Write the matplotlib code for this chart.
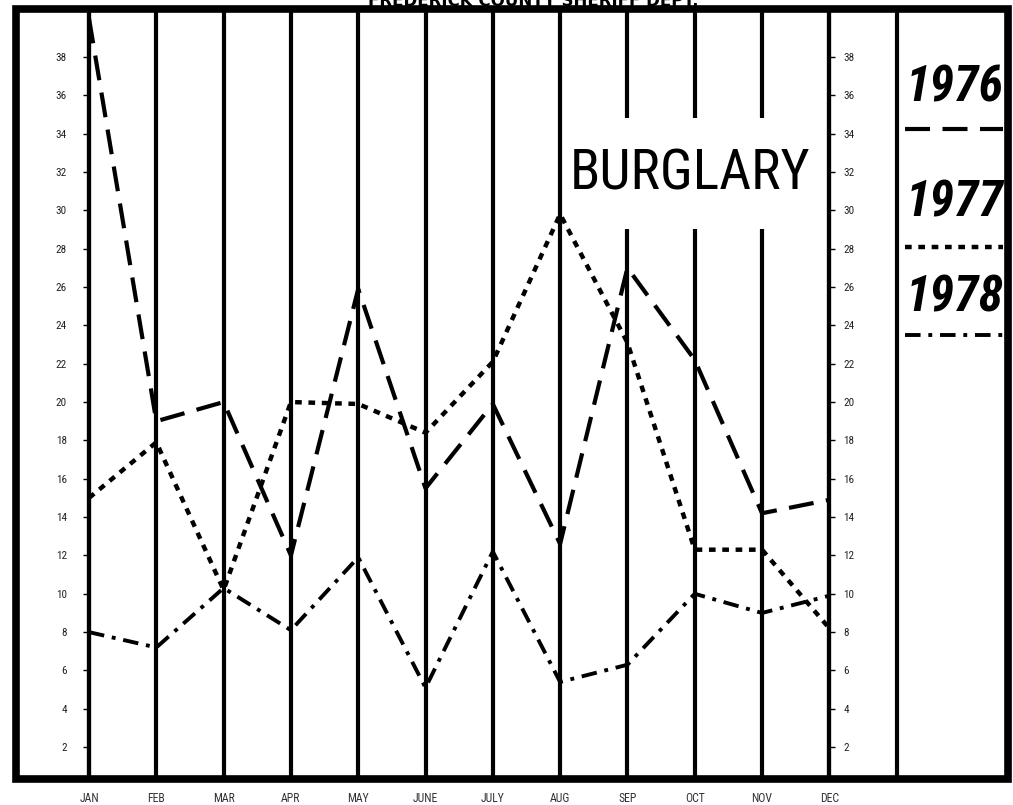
import numpy as np
import matplotlib.pyplot as plt
from matplotlib.patches import Rectangle

# Monthly burglary counts
months = ["JAN", "FEB", "MAR", "APR", "MAY", "JUNE", "JULY", "AUG", "SEP", "OCT", "NOV", "DEC"]
burglary_1976 = [40, 19, 20, 12, 25.9, 15.5, 19.9, 12.6, 27, 22.2, 14.2, 14.9]
burglary_1977 = [15, 17.9, 10.2, 20, 19.9, 18.4, 22.1, 29.8, 23.1, 12.3, 12.3, 8.2]
burglary_1978 = [8, 7.2, 10.3, 8.1, 11.9, 5.1, 12.2, 5.4, 6.3, 10, 9, 9.9]
years = ["1976", "1977", "1978"]
y_ticks = list(range(2, 40, 2))

narrow = ['Roboto Condensed', 'Open Sans Condensed', 'DejaVu Sans Condensed',
          'Roboto', 'DejaVu Sans']
styles = [(0, (6, 3)), (0, (1.5, 1.5)), (0, (4, 2, 1, 2))]
widths = [3.0, 3.2, 2.8]

W, H = 1013, 805
fig = plt.figure(figsize=(W / 100, H / 100), dpi=100)
ax = fig.add_axes([16 / W, 1 - 779 / H, (1008 - 16) / W, (779 - 9) / H])
ax.set_xlim(-1.085, 13.655)
ax.set_ylim(0.34, 40.5)

# month grid lines and the divider before the legend panel
x = np.arange(len(months))
for i in range(len(months) + 1):
    ax.axvline(i, color='black', lw=3.0, zorder=2)

# left scale on the JAN line, right scale on the DEC line
ax2 = ax.twinx()
ax2.set_ylim(ax.get_ylim())
for a in [ax, ax2]:
    for s in ['top', 'bottom', 'left', 'right']:
        a.spines[s].set_visible(False)
    a.set_yticks(y_ticks)
ax.spines['left'].set_visible(True)
ax.spines['left'].set_position(('data', 0))
ax.spines['left'].set_linewidth(3.0)
ax2.spines['right'].set_visible(True)
ax2.spines['right'].set_position(('data', len(months) - 1))
ax2.spines['right'].set_linewidth(3.0)
ax.tick_params(axis='y', direction='out', length=4, width=1, labelsize=8,
               labelcolor='#222222', pad=12)
ax2.tick_params(axis='y', direction='out', length=4, width=1, labelsize=8,
                labelcolor='#222222', pad=6)
for lab in ax.get_yticklabels() + ax2.get_yticklabels():
    lab.set_family(narrow)
ax.set_xticks(x)
ax.set_xticklabels(months, fontsize=8.5, color='#333333', family=narrow)
ax.tick_params(axis='x', length=0, pad=9)

# heavy outer frame
ax.add_patch(Rectangle((0, 0), 1, 1, transform=ax.transAxes, fill=False,
                       lw=5.5, edgecolor='black', clip_on=False, zorder=6))

# data lines
for vals, ls, lw in zip([burglary_1976, burglary_1977, burglary_1978], styles, widths):
    ax.plot(x, vals, color='black', lw=lw, linestyle=ls, dash_capstyle='butt',
            solid_capstyle='butt', zorder=4)

# title panel
tx, ty = 8.93, 31.9
ax.add_patch(Rectangle((tx - 1.85, ty - 2.9), 3.7, 5.8, facecolor='white',
                       edgecolor='none', zorder=3))
ax.text(tx, ty, 'BURGLARY', ha='center', va='center', fontsize=40,
        family=narrow, fontstretch='condensed', zorder=5)

# legend panel
label_y = [0.898, 0.748, 0.625]
line_y = [0.844, 0.691, 0.577]
for yr, ly, sy, ls, lw in zip(years, label_y, line_y, styles, widths):
    ax.text(0.9466, ly, yr, transform=ax.transAxes, ha='center', va='center',
            fontsize=36, fontstyle='italic', fontweight='bold', family=narrow,
            fontstretch='condensed')
    ax.plot([0.896, 0.995], [sy, sy], transform=ax.transAxes, color='black',
            lw=lw, linestyle=ls, dash_capstyle='butt', clip_on=False)

# cut off heading at the top edge
fig.text(533 / W, 1 - 6 / H, 'FREDERICK COUNTY SHERIFF DEPT.', ha='center',
         va='baseline', fontsize=12, fontweight='bold')

fig.savefig('out.png', dpi=100, facecolor='white')
